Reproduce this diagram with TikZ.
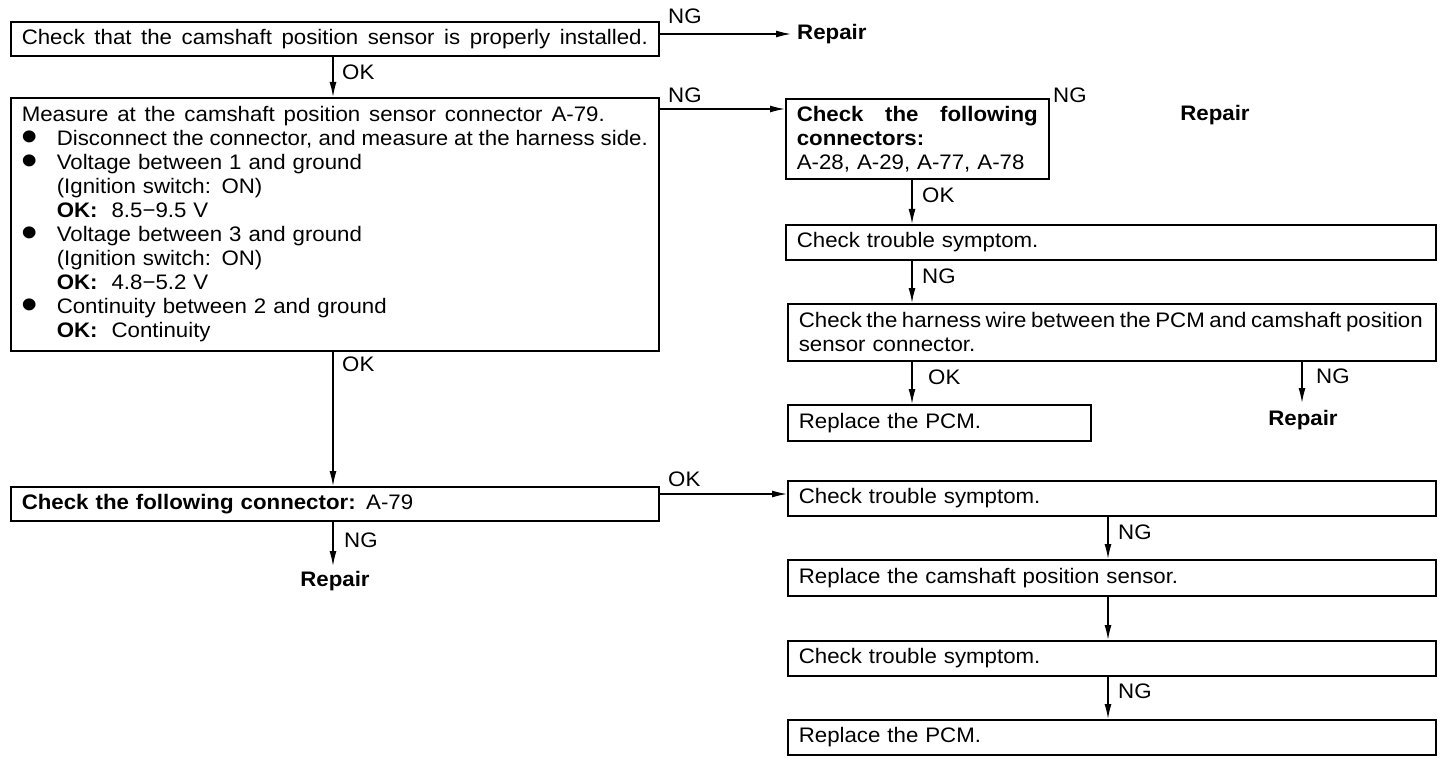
\documentclass[tikz,border=0pt]{standalone}
\usepackage{fontspec}
\setmainfont{Liberation Sans}[FakeStretch=1.06]
\usetikzlibrary{arrows.meta}
\newcommand\bul{\makebox[35pt][l]{\hspace*{-0.5pt}\raisebox{-6pt}[0pt][0pt]{\scalebox{2.1}{\textbullet}}}}
\newcommand\ind{\hspace*{35pt}}
\newcommand\jl[3][7pt plus 10pt minus 3pt]{\leavevmode\hbox to #2{\spaceskip=#1\relax #3}}
\newcommand\txtfont{\fontsize{21}{24}\selectfont}
\tikzset{
  box/.style={draw, line width=1.6pt, anchor=north west, inner xsep=11pt, inner ysep=0pt, align=left, font=\txtfont},
  lab/.style={anchor=west, inner sep=0pt, font=\txtfont},
  rep/.style={inner sep=0pt, font=\txtfont\bfseries},
  arr/.style={line width=1.4pt, -{Latex[length=15pt,width=7pt]}},
}
\begin{document}
\begin{tikzpicture}[x=1pt,y=-1pt]
\useasboundingbox[fill=white] (0,0) rectangle (1456,762);
% left column
\node[box, minimum width=648pt, minimum height=34pt, text width=626pt] (b1) at (10,21)
  {\jl{626pt}{Check that the camshaft position sensor is properly installed.}};
\node[box, minimum width=648pt, minimum height=253pt, text width=626pt] (b2) at (10,97)
  {\jl{583pt}{Measure at the camshaft position sensor connector A-79.}\\
   \bul\jl{591pt}{Disconnect the connector, and measure at the harness side.}\\
   \bul Voltage between 1 and ground\\
   \ind (Ignition switch: ON)\\
   \ind \textbf{OK:}\ \ 8.5−9.5 V\\
   \bul Voltage between 3 and ground\\
   \ind (Ignition switch: ON)\\
   \ind \textbf{OK:}\ \ 4.8−5.2 V\\
   \bul Continuity between 2 and ground\\
   \ind \textbf{OK:}\ \ Continuity};
\node[box, minimum width=648pt, minimum height=34pt, text width=626pt] (a79) at (10,486)
  {\textbf{Check the following connector:} A-79};
% right column
\node[box, minimum width=263pt, minimum height=80pt, text width=241pt] (c1) at (785,98)
  {\textbf{Check\hfill the\hfill following}\\
   \textbf{connectors:}\\
   A-28, A-29, A-77, A-78};
\node[box, minimum width=650pt, minimum height=35pt, text width=628pt] (t1) at (785,224)
  {Check trouble symptom.};
\node[box, minimum width=648pt, minimum height=57pt, text width=626pt] (h1) at (787,303)
  {\jl[4pt plus 4pt minus 2pt]{624pt}{Check the harness wire between the PCM and camshaft position}\\ sensor connector.};
\node[box, minimum width=303pt, minimum height=36pt, text width=281pt] (p1) at (787,404)
  {Replace the PCM.};
\node[box, minimum width=648pt, minimum height=35pt, text width=626pt] (t2) at (787,480)
  {Check trouble symptom.};
\node[box, minimum width=648pt, minimum height=36pt, text width=626pt] (s1) at (787,559)
  {Replace the camshaft position sensor.};
\node[box, minimum width=648pt, minimum height=35pt, text width=626pt] (t3) at (787,640)
  {Check trouble symptom.};
\node[box, minimum width=648pt, minimum height=35pt, text width=626pt] (p2) at (787,719)
  {Replace the PCM.};
% repair texts
\node[rep, anchor=west] (r1) at (797,34) {Repair};
\node[rep] (r2) at (1215,115) {Repair};
\node[rep] (r3) at (1303,420) {Repair};
\node[rep] (r4) at (335,581) {Repair};
% labels
\node[lab] (l1) at (668,16) {NG};
\node[lab] (l2) at (342,72) {OK};
\node[lab] (l3) at (668,95) {NG};
\node[lab] (l4) at (1053,95) {NG};
\node[lab] (l5) at (922,195) {OK};
\node[lab] (l6) at (922,276) {NG};
\node[lab] (l7) at (928,377) {OK};
\node[lab] (l8) at (1316,376) {NG};
\node[lab] (l9) at (342,364) {OK};
\node[lab] (l10) at (668,479) {OK};
\node[lab] (l11) at (1118,532) {NG};
\node[lab] (l12) at (1118,691) {NG};
\node[lab] (l13) at (344,540) {NG};
% helper coordinates
\coordinate (xa) at (333,0);
\coordinate (xb) at (912,0);
\coordinate (xc) at (1302,0);
\coordinate (xd) at (1108,0);
\coordinate (n1) at ([yshift=-13pt]b1.north east);
\coordinate (n2) at ([yshift=-12pt]b2.north east);
\coordinate (n3) at ([yshift=-8pt]a79.north east);
\coordinate (e3) at (1302,403);
\coordinate (e4) at (333,566);
% connectors
\draw[arr, shorten >=6pt] (n1) -- (r1.west);
\draw[arr] (b1.south -| xa) -- (b2.north -| xa);
\draw[arr] (n2) -- (n2 -| c1.west);
\draw[arr] (b2.south -| xa) -- (a79.north -| xa);
\draw[arr] (a79.south -| xa) -- (e4);
\draw[arr] (n3) -- (n3 -| t2.west);
\draw[arr] (c1.south -| xb) -- (t1.north -| xb);
\draw[arr] (t1.south -| xb) -- (h1.north -| xb);
\draw[arr] (h1.south -| xb) -- (p1.north -| xb);
\draw[arr] (h1.south -| xc) -- (e3);
\draw[arr] (t2.south -| xd) -- (s1.north -| xd);
\draw[arr] (s1.south -| xd) -- (t3.north -| xd);
\draw[arr] (t3.south -| xd) -- (p2.north -| xd);
\end{tikzpicture}
\end{document}
